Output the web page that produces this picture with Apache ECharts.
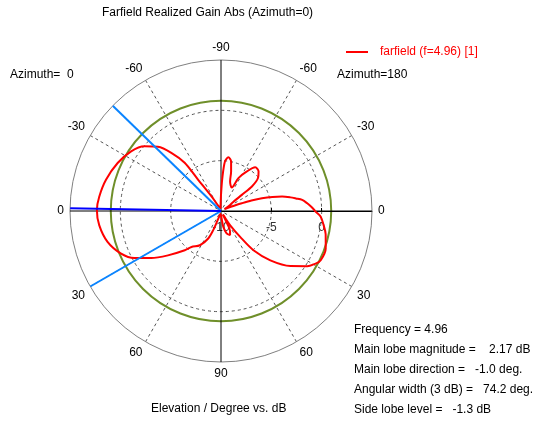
<!DOCTYPE html>
<html><head><meta charset="utf-8">
<script src="https://cdn.jsdelivr.net/npm/echarts@6/dist/echarts.min.js"></script>
<style>html,body{margin:0;padding:0;background:#fff}#c{width:555px;height:421px}</style>
</head><body><div id="c"></div>
<script>
// Plot angle (deg, counter-clockwise from the right-hand "0" of Azimuth=180) and realized gain (dB)
const curveAngle = [0, 2.5, 5.1, 7.8, 9.5, 11.1, 13.3, 15.3, 17.3, 19, 20.4, 22, 25, 28, 31, 33, 35.7, 37.7, 38.4, 41.7, 46.5, 51.9, 56.8, 62.1, 65.3, 72.9, 75.7, 78.5, 82.2, 85.4, 87.7, 90, 93, 100, 110, 118, 121, 123, 126.2, 127, 130.5, 134.5, 139.8, 146.4, 155.1, 164.8, 173.3, 179.5, 186.6, 195.2, 203.1, 208.5, 214, 219.9, 227.3, 230.6, 238.3, 245.1, 247.9, 250, 255, 260, 270, 275, 278.3, 284, 290.6, 294, 296, 298, 300, 302.7, 306.5, 309.6, 315, 321.6, 327.4, 330.9, 333.7, 340.3, 347.5, 352, 356.7, 359.6, 360];
const curveGain = [-0.65, -1.0, -1.4, -1.86, -2.45, -2.97, -3.76, -4.7, -5.74, -6.8, -7.8, -8.6, -9.3, -9.6, -9.3, -9.0, -8.68, -7.38, -6.08, -5.08, -4.58, -4.49, -5.3, -6.3, -7.44, -6.93, -5.94, -4.97, -4.62, -5.05, -6.73, -8.4, -9.3, -9.7, -9.7, -9.4, -9.0, -8.3, -6.16, -4.0, -2.4, -1.06, -0.04, 0.72, 1.32, 1.84, 2.18, 2.33, 2.18, 1.68, 0.79, -0.21, -1.64, -3.13, -4.69, -5.38, -6.0, -6.99, -7.95, -9.0, -9.6, -9.7, -9.6, -9.2, -8.4, -7.7, -7.44, -7.8, -8.8, -9.6, -9.5, -8.34, -6.8, -4.94, -3.07, -1.2, 0.17, 0.76, 1.05, 1.05, 0.65, 0.3, -0.08, -0.6, -0.65];
const mainLobeTheta = [-1.0];          // elevation of main lobe (Azimuth=0 side)
const beamEdgeTheta = [-44.2, 30.0];   // 3 dB beam edges
const greenLevel = [0.95];             // reference circle level (dB)
const radialMin = -10, radialMax = 5;
const radialLabelValues = [-10, -5, 0];
const radialGridValues = [-5, 0];
const infoLines = ['Frequency = 4.96', 'Main lobe magnitude =    2.17 dB', 'Main lobe direction =   -1.0 deg.', 'Angular width (3 dB) =   74.2 deg.', 'Side lobe level =   -1.3 dB'];

const FONT = 'Liberation Sans';
function plotAngleLeft(theta) { return 180 + theta; }
function angleLabel(v) {
  if (v <= 90) return String(-v === 0 ? 0 : -v);
  if (v >= 270) return String(360 - v);
  return String(v - 180);
}
const P = { center: [221, 211], radius: 151 };
const hiddenAngle = (i) => ({ polarIndex: i, type: 'value', min: 0, max: 360, startAngle: 0, clockwise: false,
  axisLine: { show: false }, axisTick: { show: false }, axisLabel: { show: false }, splitLine: { show: false } });

const chart = echarts.init(document.getElementById('c'), null, { renderer: 'canvas' });
const option = {
  animation: false,
  backgroundColor: '#fff',
  textStyle: { fontFamily: FONT },
  title: [
    { text: 'Farfield Realized Gain Abs (Azimuth=0)', left: 102, top: 7, padding: 0,
      textStyle: { fontFamily: FONT, fontSize: 12, fontWeight: 'normal', color: '#000' } },
    { text: 'Azimuth=  0', left: 10, top: 69, padding: 0,
      textStyle: { fontFamily: FONT, fontSize: 12, fontWeight: 'normal', color: '#000' } },
    { text: 'Azimuth=180', left: 337, top: 69, padding: 0,
      textStyle: { fontFamily: FONT, fontSize: 12, fontWeight: 'normal', color: '#000' } },
    { text: 'Elevation / Degree vs. dB', left: 151, top: 403, padding: 0,
      textStyle: { fontFamily: FONT, fontSize: 12, fontWeight: 'normal', color: '#000' } },
    { text: infoLines.join('\n'), left: 354, top: 320, padding: 0,
      textStyle: { fontFamily: FONT, fontSize: 12, fontWeight: 'normal', color: '#000', lineHeight: 20 } }
  ],
  legend: {
    left: 346, top: 46, padding: 0, itemWidth: 22, itemHeight: 2, icon: 'rect',
    data: ['farfield (f=4.96) [1]'],
    textStyle: { fontFamily: FONT, fontSize: 12, color: '#ff0000', padding: [0, 0, 0, 7] }
  },
  polar: [Object.assign({}, P), Object.assign({}, P), Object.assign({}, P)],
  angleAxis: [
    { polarIndex: 0, type: 'value', min: 0, max: 360, interval: 30, startAngle: 0, clockwise: false, z: 0,
      axisLine: { lineStyle: { color: '#808080', width: 1 } },
      axisTick: { show: false },
      axisLabel: { formatter: angleLabel, color: '#000', fontFamily: FONT, fontSize: 12, margin: 6 },
      splitLine: { lineStyle: { color: ['rgba(0,0,0,0)', '#555', '#555'], width: 1, type: [3, 3] } } },
    { polarIndex: 1, type: 'value', min: 0, max: 360, interval: 90, startAngle: 0, clockwise: false, z: 1,
      axisLine: { show: false }, axisTick: { show: false }, axisLabel: { show: false },
      splitLine: { lineStyle: { color: '#000', width: 1, type: 'solid' } } },
    hiddenAngle(2)
  ],
  radiusAxis: [
    { polarIndex: 0, type: 'value', min: radialMin, max: radialMax,
      axisLine: { lineStyle: { color: '#000' } },
      axisTick: { show: true, length: 3, customValues: radialGridValues, lineStyle: { color: '#000' } },
      axisLabel: { customValues: radialLabelValues, color: '#333', fontFamily: FONT, fontSize: 12, margin: -11, verticalAlign: 'top', align: 'center' },
      splitLine: { show: true, lineStyle: { color: '#555', width: 1, type: [3, 3] } } },
    { polarIndex: 1, type: 'value', min: radialMin, max: radialMax,
      axisLine: { show: false }, axisTick: { show: false }, axisLabel: { show: false }, splitLine: { show: false } },
    { polarIndex: 2, type: 'value', min: radialMin, max: radialMax,
      axisLine: { show: false }, axisTick: { show: false, customValues: greenLevel }, axisLabel: { show: false },
      splitLine: { show: true, lineStyle: { color: '#6f8f2a', width: 2 } } }
  ],
  series: [
    { name: 'farfield (f=4.96) [1]', type: 'line', coordinateSystem: 'polar', polarIndex: 0,
      data: curveAngle.map((a, i) => [curveGain[i], a]), smooth: 0.3, symbol: 'none', z: 5,
      lineStyle: { color: '#ff0000', width: 2 }, itemStyle: { color: '#ff0000' } },
    ...beamEdgeTheta.map(t => ({ type: 'line', coordinateSystem: 'polar', polarIndex: 0, symbol: 'none', z: 6,
      data: [[radialMax, plotAngleLeft(t)], [radialMin, plotAngleLeft(t)]],
      lineStyle: { color: '#0a84ff', width: 2 } })),
    ...mainLobeTheta.map(t => ({ type: 'line', coordinateSystem: 'polar', polarIndex: 0, symbol: 'none', z: 6,
      data: [[radialMax, plotAngleLeft(t)], [radialMin, plotAngleLeft(t)]],
      lineStyle: { color: '#0000ff', width: 2 } }))
  ]
};
chart.setOption(option);
</script>
</body></html>
